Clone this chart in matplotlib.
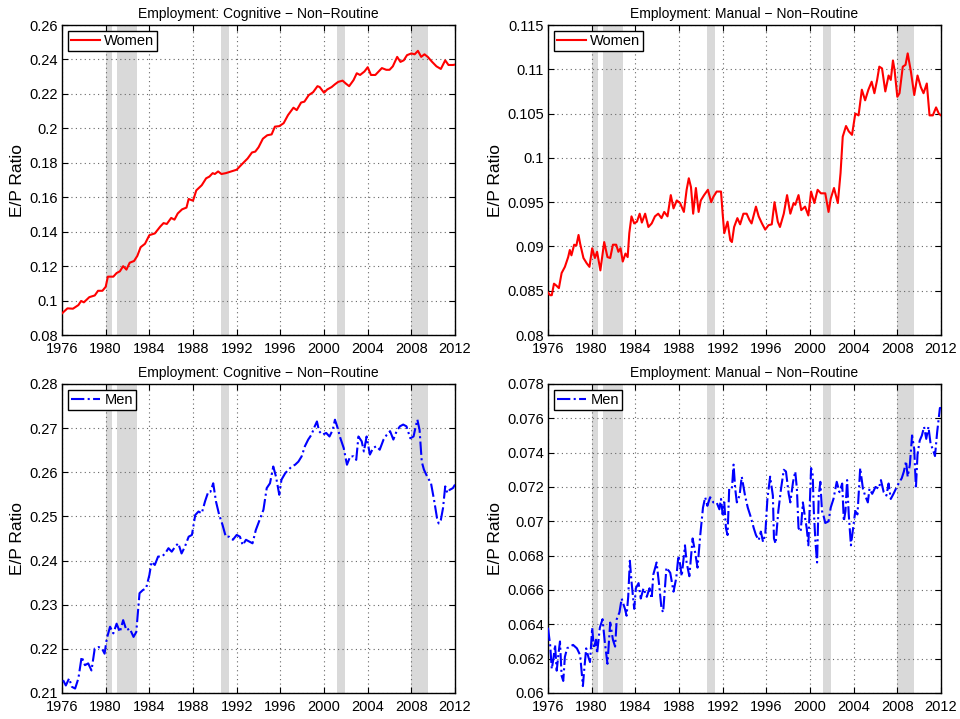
import numpy as np
import matplotlib
matplotlib.use("Agg")
import matplotlib.pyplot as plt

plt.rcParams['font.family'] = ['Liberation Sans', 'DejaVu Sans']

# recession periods (shaded)
recessions = [(1980.0, 1980.6), (1981.0, 1982.9), (1990.55, 1991.3),
              (2001.2, 2001.9), (2007.95, 2009.5)]

# Cognitive non-routine, women
cog_women_t = [1976.0, 1976.5, 1977.0, 1977.5, 1977.75, 1978.0, 1978.5, 1979.0, 1979.3, 1979.7,
               1980.0, 1980.2, 1980.7, 1981.0, 1981.3, 1981.6, 1981.9, 1982.2, 1982.6, 1982.9,
               1983.2, 1983.6, 1984.0, 1984.5, 1985.0, 1985.3, 1985.6, 1986.0, 1986.3, 1986.6,
               1987.0, 1987.4, 1987.6, 1988.0, 1988.3, 1988.8, 1989.2, 1989.5, 1989.8, 1990.0,
               1990.3, 1990.6, 1991.0, 1991.5, 1992.0, 1992.3, 1992.7, 1993.0, 1993.4, 1993.7,
               1994.0, 1994.4, 1994.8, 1995.2, 1995.5, 1995.9, 1996.3, 1996.7, 1997.2, 1997.5,
               1997.9, 1998.2, 1998.6, 1999.0, 1999.4, 1999.6, 2000.0, 2000.3, 2000.7, 2001.0,
               2001.3, 2001.7, 2002.0, 2002.3, 2002.7, 2003.0, 2003.3, 2003.7, 2004.0, 2004.3,
               2004.7, 2005.0, 2005.3, 2005.7, 2006.0, 2006.3, 2006.7, 2007.0, 2007.3, 2007.6,
               2008.0, 2008.3, 2008.6, 2008.9, 2009.2, 2009.5, 2009.9, 2010.3, 2010.7, 2011.1,
               2011.4, 2011.8, 2012.0]
cog_women = [0.0926, 0.0955, 0.0953, 0.0974, 0.0998, 0.0990, 0.1020, 0.1030, 0.1057, 0.1057,
             0.1080, 0.1139, 0.1139, 0.1160, 0.1170, 0.1200, 0.1180, 0.1220, 0.1230, 0.1260,
             0.1310, 0.1330, 0.1380, 0.1390, 0.1430, 0.1450, 0.1445, 0.1480, 0.1470, 0.1506,
             0.1530, 0.1540, 0.1590, 0.1580, 0.1640, 0.1670, 0.1710, 0.1720, 0.1740, 0.1735,
             0.1750, 0.1735, 0.1740, 0.1750, 0.1760, 0.1780, 0.1806, 0.1825, 0.1860, 0.1865,
             0.1890, 0.1940, 0.1960, 0.1965, 0.2010, 0.2013, 0.2030, 0.2077, 0.2120, 0.2106,
             0.2150, 0.2155, 0.2193, 0.2210, 0.2245, 0.2240, 0.2207, 0.2226, 0.2240, 0.2256,
             0.2270, 0.2277, 0.2260, 0.2245, 0.2280, 0.2320, 0.2310, 0.2330, 0.2355, 0.2310,
             0.2310, 0.2330, 0.2350, 0.2340, 0.2340, 0.2360, 0.2415, 0.2386, 0.2395, 0.2425,
             0.2435, 0.2430, 0.2450, 0.2415, 0.2430, 0.2415, 0.2386, 0.2360, 0.2345, 0.2395,
             0.2368, 0.2368, 0.2370]

# Manual non-routine, women
man_women_t = [1976.0, 1976.2, 1976.35, 1976.55, 1976.75, 1977.0, 1977.25, 1977.55, 1977.85, 1978.0,
               1978.15, 1978.4, 1978.6, 1978.8, 1978.95, 1979.25, 1979.55, 1979.8, 1980.05, 1980.3,
               1980.5, 1980.8, 1981.15, 1981.45, 1981.7, 1981.95, 1982.25, 1982.45, 1982.65, 1982.85,
               1983.1, 1983.3, 1983.45, 1983.65, 1983.9, 1984.15, 1984.4, 1984.6, 1984.9, 1985.2,
               1985.5, 1985.8, 1986.1, 1986.4, 1986.65, 1986.95, 1987.25, 1987.5, 1987.8, 1988.1,
               1988.45, 1988.7, 1988.9, 1989.1, 1989.3, 1989.55, 1989.8, 1990.0, 1990.3, 1990.65,
               1990.95, 1991.15, 1991.45, 1991.85, 1992.0, 1992.15, 1992.45, 1992.7, 1992.85, 1993.05,
               1993.35, 1993.6, 1993.9, 1994.2, 1994.45, 1994.65, 1995.05, 1995.3, 1995.6, 1995.9,
               1996.2, 1996.5, 1996.75, 1997.05, 1997.25, 1997.6, 1997.9, 1998.2, 1998.5, 1998.65,
               1998.95, 1999.2, 1999.55, 1999.85, 2000.1, 2000.4, 2000.7, 2001.0, 2001.4, 2001.7,
               2001.9, 2002.2, 2002.55, 2002.8, 2003.0, 2003.3, 2003.55, 2003.85, 2004.15, 2004.45,
               2004.75, 2005.05, 2005.35, 2005.65, 2005.9, 2006.15, 2006.35, 2006.6, 2006.9, 2007.2,
               2007.4, 2007.6, 2007.75, 2008.0, 2008.2, 2008.5, 2008.75, 2008.95, 2009.25, 2009.55,
               2009.85, 2010.15, 2010.4, 2010.7, 2010.95, 2011.25, 2011.55, 2011.8, 2012.0]
man_women = [0.0848, 0.0845, 0.0845, 0.0858, 0.0856, 0.0853, 0.0870, 0.0877, 0.0888, 0.0896,
             0.0890, 0.0902, 0.0901, 0.0913, 0.0903, 0.0887, 0.0881, 0.0877, 0.0898, 0.0887,
             0.0894, 0.0873, 0.0905, 0.0888, 0.0887, 0.0902, 0.0902, 0.0894, 0.0898, 0.0883,
             0.0892, 0.0888, 0.0915, 0.0934, 0.0926, 0.0928, 0.0937, 0.0927, 0.0937, 0.0922,
             0.0926, 0.0934, 0.0937, 0.0932, 0.0939, 0.0934, 0.0958, 0.0943, 0.0952, 0.0949,
             0.0939, 0.0964, 0.0977, 0.0967, 0.0937, 0.0966, 0.0939, 0.0952, 0.0958, 0.0964,
             0.0950, 0.0956, 0.0962, 0.0962, 0.0937, 0.0915, 0.0928, 0.0907, 0.0905, 0.0922,
             0.0932, 0.0925, 0.0937, 0.0937, 0.0930, 0.0926, 0.0945, 0.0934, 0.0926, 0.0919,
             0.0924, 0.0925, 0.0950, 0.0928, 0.0922, 0.0937, 0.0958, 0.0937, 0.0949, 0.0947,
             0.0958, 0.0941, 0.0945, 0.0935, 0.0962, 0.0949, 0.0964, 0.0960, 0.0960, 0.0939,
             0.0954, 0.0966, 0.0949, 0.0983, 0.1024, 0.1036, 0.1030, 0.1026, 0.1050, 0.1048,
             0.1077, 0.1065, 0.1077, 0.1086, 0.1073, 0.1088, 0.1103, 0.1101, 0.1075, 0.1093,
             0.1088, 0.1110, 0.1099, 0.1069, 0.1073, 0.1103, 0.1105, 0.1118, 0.1097, 0.1071,
             0.1093, 0.1080, 0.1073, 0.1084, 0.1048, 0.1048, 0.1057, 0.1050, 0.1048]

# Cognitive non-routine, men
cog_men_t = [1976.1, 1976.35, 1976.65, 1976.9, 1977.2, 1977.5, 1977.8, 1978.1, 1978.4, 1978.7,
             1979.0, 1979.35, 1979.65, 1979.9, 1980.1, 1980.4, 1980.7, 1981.0, 1981.3, 1981.6,
             1981.9, 1982.2, 1982.55, 1982.8, 1983.1, 1983.4, 1983.7, 1984.0, 1984.2, 1984.5,
             1984.8, 1985.15, 1985.45, 1985.75, 1986.05, 1986.35, 1986.65, 1986.95, 1987.25, 1987.6,
             1987.9, 1988.2, 1988.5, 1988.8, 1989.1, 1989.4, 1989.6, 1989.85, 1990.1, 1990.4,
             1990.7, 1991.0, 1991.3, 1991.65, 1992.0, 1992.3, 1992.55, 1992.85, 1993.15, 1993.45,
             1993.75, 1994.1, 1994.45, 1994.75, 1995.05, 1995.35, 1995.6, 1995.9, 1996.1, 1996.45,
             1996.75, 1997.05, 1997.35, 1997.65, 1997.95, 1998.25, 1998.55, 1998.85, 1999.15, 1999.35,
             1999.55, 1999.85, 2000.2, 2000.5, 2000.8, 2001.0, 2001.2, 2001.5, 2001.8, 2002.1,
             2002.4, 2002.7, 2002.95, 2003.15, 2003.45, 2003.65, 2003.9, 2004.2, 2004.5, 2004.8,
             2005.1, 2005.45, 2005.75, 2006.05, 2006.35, 2006.65, 2006.95, 2007.25, 2007.55, 2007.9,
             2008.2, 2008.4, 2008.55, 2008.75, 2008.95, 2009.15, 2009.45, 2009.8, 2010.1, 2010.35,
             2010.5, 2010.7, 2010.9, 2011.1, 2011.3, 2011.5, 2011.8, 2012.0]
cog_men = [0.2129, 0.2117, 0.2133, 0.2114, 0.2110, 0.2133, 0.2182, 0.2163, 0.2167, 0.2151,
           0.2201, 0.2204, 0.2201, 0.2189, 0.2223, 0.2250, 0.2235, 0.2257, 0.2238, 0.2265,
           0.2242, 0.2246, 0.2227, 0.2238, 0.2326, 0.2333, 0.2337, 0.2367, 0.2397, 0.2390,
           0.2409, 0.2409, 0.2416, 0.2428, 0.2420, 0.2431, 0.2439, 0.2416, 0.2431, 0.2454,
           0.2458, 0.2503, 0.2511, 0.2507, 0.2534, 0.2556, 0.2556, 0.2575, 0.2534, 0.2503,
           0.2481, 0.2454, 0.2454, 0.2447, 0.2458, 0.2454, 0.2435, 0.2447, 0.2443, 0.2439,
           0.2469, 0.2492, 0.2515, 0.2564, 0.2575, 0.2613, 0.2590, 0.2549, 0.2583, 0.2598,
           0.2606, 0.2613, 0.2617, 0.2624, 0.2636, 0.2659, 0.2674, 0.2685, 0.2704, 0.2715,
           0.2693, 0.2685, 0.2689, 0.2681, 0.2696, 0.2719, 0.2704, 0.2677, 0.2655, 0.2617,
           0.2636, 0.2636, 0.2628, 0.2681, 0.2670, 0.2647, 0.2681, 0.2640, 0.2655, 0.2659,
           0.2651, 0.2674, 0.2685, 0.2693, 0.2674, 0.2693, 0.2704, 0.2708, 0.2704, 0.2677,
           0.2681, 0.2704, 0.2719, 0.2696, 0.2624, 0.2606, 0.2590, 0.2575, 0.2534, 0.2496,
           0.2484, 0.2492, 0.2519, 0.2568, 0.2553, 0.2560, 0.2564, 0.2572]

# Manual non-routine, men
man_men_t = [1976.0, 1976.2, 1976.35, 1976.5, 1976.65, 1976.8, 1976.95, 1977.1, 1977.25, 1977.4,
             1977.55, 1977.75, 1978.0, 1978.3, 1978.65, 1978.95, 1979.2, 1979.3, 1979.5, 1979.7,
             1979.85, 1980.05, 1980.2, 1980.4, 1980.5, 1980.75, 1981.0, 1981.2, 1981.45, 1981.7,
             1981.95, 1982.15, 1982.3, 1982.55, 1982.75, 1983.05, 1983.2, 1983.35, 1983.5, 1983.65,
             1983.9, 1984.05, 1984.3, 1984.5, 1984.75, 1985.05, 1985.3, 1985.5, 1985.65, 1985.95,
             1986.2, 1986.4, 1986.55, 1986.85, 1987.2, 1987.5, 1987.75, 1987.95, 1988.1, 1988.25,
             1988.55, 1988.7, 1988.95, 1989.25, 1989.45, 1989.7, 1989.95, 1990.2, 1990.4, 1990.6,
             1990.85, 1991.15, 1991.45, 1991.7, 1991.85, 1992.0, 1992.15, 1992.3, 1992.45, 1992.6,
             1992.85, 1993.0, 1993.15, 1993.3, 1993.55, 1993.75, 1994.05, 1994.3, 1994.55, 1994.85,
             1995.05, 1995.3, 1995.5, 1995.7, 1995.9, 1996.1, 1996.35, 1996.6, 1996.7, 1996.85,
             1997.1, 1997.35, 1997.6, 1997.8, 1998.05, 1998.2, 1998.45, 1998.65, 1998.8, 1998.95,
             1999.15, 1999.35, 1999.55, 1999.7, 1999.85, 2000.1, 2000.25, 2000.35, 2000.5, 2000.65,
             2000.8, 2000.95, 2001.1, 2001.25, 2001.4, 2001.7, 2001.9, 2002.15, 2002.45, 2002.7,
             2002.95, 2003.1, 2003.25, 2003.4, 2003.55, 2003.75, 2003.95, 2004.15, 2004.35, 2004.6,
             2004.85, 2005.05, 2005.3, 2005.45, 2005.7, 2006.0, 2006.3, 2006.5, 2006.75, 2007.0,
             2007.2, 2007.4, 2007.65, 2007.95, 2008.2, 2008.4, 2008.6, 2008.8, 2008.95, 2009.15,
             2009.35, 2009.55, 2009.7, 2009.85, 2010.05, 2010.25, 2010.45, 2010.65, 2010.85, 2011.05,
             2011.25, 2011.45, 2011.65, 2011.9, 2012.0]
man_men = [0.0638, 0.0628, 0.0614, 0.0620, 0.0628, 0.0613, 0.0622, 0.0630, 0.0610, 0.0607,
           0.0621, 0.0626, 0.0627, 0.0628, 0.0626, 0.0622, 0.0604, 0.0612, 0.0626, 0.0621,
           0.0618, 0.0638, 0.0626, 0.0631, 0.0623, 0.0638, 0.0643, 0.0630, 0.0617, 0.0641,
           0.0631, 0.0627, 0.0643, 0.0647, 0.0655, 0.0649, 0.0645, 0.0656, 0.0677, 0.0665,
           0.0649, 0.0661, 0.0664, 0.0655, 0.0661, 0.0656, 0.0661, 0.0655, 0.0669, 0.0676,
           0.0662, 0.0649, 0.0647, 0.0673, 0.0670, 0.0659, 0.0667, 0.0680, 0.0675, 0.0668,
           0.0686, 0.0676, 0.0668, 0.0690, 0.0683, 0.0673, 0.0692, 0.0708, 0.0714, 0.0709,
           0.0714, 0.0711, 0.0711, 0.0707, 0.0713, 0.0704, 0.0711, 0.0696, 0.0692, 0.0719,
           0.0719, 0.0733, 0.0719, 0.0711, 0.0715, 0.0726, 0.0715, 0.0708, 0.0703, 0.0696,
           0.0692, 0.0689, 0.0694, 0.0688, 0.0692, 0.0713, 0.0726, 0.0715, 0.0690, 0.0687,
           0.0706, 0.0719, 0.0730, 0.0729, 0.0716, 0.0711, 0.0723, 0.0729, 0.0719, 0.0696,
           0.0694, 0.0711, 0.0702, 0.0696, 0.0686, 0.0731, 0.0727, 0.0706, 0.0688, 0.0676,
           0.0715, 0.0723, 0.0706, 0.0703, 0.0699, 0.0700, 0.0708, 0.0713, 0.0723, 0.0717,
           0.0722, 0.0700, 0.0706, 0.0724, 0.0704, 0.0686, 0.0696, 0.0706, 0.0704, 0.0731,
           0.0719, 0.0715, 0.0711, 0.0719, 0.0716, 0.0720, 0.0719, 0.0724, 0.0717, 0.0715,
           0.0722, 0.0713, 0.0716, 0.0720, 0.0723, 0.0725, 0.0729, 0.0735, 0.0726, 0.0733,
           0.0750, 0.0742, 0.0719, 0.0739, 0.0747, 0.0750, 0.0755, 0.0748, 0.0755, 0.0745,
           0.0742, 0.0738, 0.0752, 0.0766, 0.0766]

panels = [
    dict(t=cog_women_t, y=cog_women, title="Employment: Cognitive \u2212 Non\u2212Routine",
         label="Women", color="red", ls="-", ylim=(0.08, 0.26), step=0.02),
    dict(t=man_women_t, y=man_women, title="Employment: Manual \u2212 Non\u2212Routine",
         label="Women", color="red", ls="-", ylim=(0.08, 0.115), step=0.005),
    dict(t=cog_men_t, y=cog_men, title="Employment: Cognitive \u2212 Non\u2212Routine",
         label="Men", color="blue", ls="-.", ylim=(0.21, 0.28), step=0.01),
    dict(t=man_men_t, y=man_men, title="Employment: Manual \u2212 Non\u2212Routine",
         label="Men", color="blue", ls="-.", ylim=(0.06, 0.078), step=0.002),
]

fig = plt.figure(figsize=(9.6, 7.19), dpi=100)
boxes = [[0.0646, 0.534, 0.4094, 0.4312], [0.5708, 0.534, 0.4094, 0.4312],
         [0.0646, 0.0362, 0.4094, 0.4298], [0.5708, 0.0362, 0.4094, 0.4298]]

for box, p in zip(boxes, panels):
    ax = fig.add_axes(box)
    for a, b in recessions:
        ax.axvspan(a, b, color="#d9d9d9", lw=0, zorder=0)
    ax.plot(p["t"], p["y"], color=p["color"], ls=p["ls"], lw=1.5, label=p["label"], zorder=3)
    ax.set_xlim(1976, 2012)
    ax.set_ylim(*p["ylim"])
    ax.set_xticks(np.arange(1976, 2013, 4))
    yt = np.arange(p["ylim"][0], p["ylim"][1] + p["step"] / 2, p["step"])
    ax.set_yticks(yt, labels=["{:g}".format(round(v, 4)) for v in yt])
    ax.grid(True, color="0.4", linestyle=(0, (1, 3)), linewidth=0.8)
    ax.set_axisbelow(True)
    ax.tick_params(direction="in", top=True, right=True, length=4, labelsize=10.5)
    ax.tick_params(axis="x", pad=5)
    ax.tick_params(axis="y", pad=3)
    for s in ax.spines.values():
        s.set_linewidth(1.0)
    ax.set_title(p["title"], fontsize=10, pad=5)
    ax.set_ylabel("E/P Ratio", fontsize=12.5, labelpad=3)
    leg = ax.legend(loc="upper left", fontsize=10.5, fancybox=False, framealpha=1,
                    edgecolor="black", handlelength=2.0, borderpad=0.2,
                    handletextpad=0.3, borderaxespad=0.4)
    leg.get_frame().set_linewidth(1.0)

fig.savefig("out.png", dpi=100)
